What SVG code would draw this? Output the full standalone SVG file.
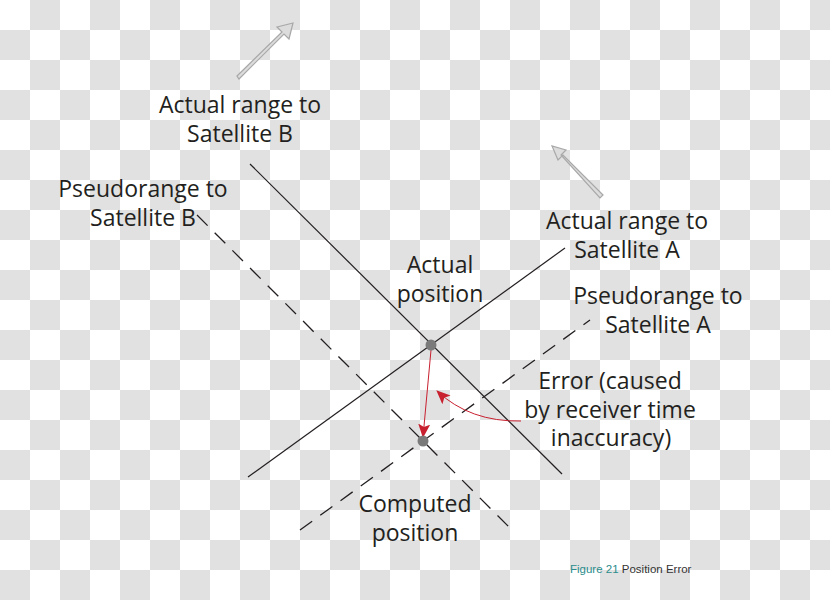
<svg xmlns="http://www.w3.org/2000/svg" width="830" height="600" viewBox="0 0 830 600">
<defs>
<pattern id="chk" width="60" height="60" patternUnits="userSpaceOnUse">
<rect width="60" height="60" fill="#ffffff"/>
<rect x="30" y="0" width="30" height="30" fill="#e1e1e1"/>
<rect x="0" y="30" width="30" height="30" fill="#e1e1e1"/>
</pattern>
<marker id="redhead" viewBox="0 0 14 12" refX="13" refY="6" markerWidth="14" markerHeight="12" markerUnits="userSpaceOnUse" orient="auto">
<path d="M0,0 L14,6 L0,12 L3,6 Z" fill="#c8202f"/>
</marker>
<style>
.lbl{font-family:"Open Sans","Liberation Sans",sans-serif;font-size:23px;fill:#231f20;text-anchor:middle}
.solid{stroke:#231f20;stroke-width:1.2;fill:none}
.dash{stroke:#231f20;stroke-width:1.3;fill:none;stroke-dasharray:15 10}
.red{stroke:#c8202f;stroke-width:1;fill:none}
.dot{fill:#7a7a7a}
.garrow{fill:#dcdcdc;stroke:#a8a8a8;stroke-width:1.2}
.cap{font-family:"Liberation Sans",Arial,sans-serif;font-size:11.5px}
</style>
</defs>
<rect width="830" height="600" fill="url(#chk)"/>
<g id="connectors">
<line id="actual-b" class="solid" x1="250" y1="164" x2="562" y2="474"/>
<line id="actual-a" class="solid" x1="248" y1="477" x2="565" y2="248"/>
<line id="pseudo-b" class="dash" x1="197" y1="215" x2="512" y2="530"/>
<line id="pseudo-a" class="dash" x1="300" y1="530" x2="590" y2="320"/>
<line id="error-vec" class="red" x1="431" y1="350" x2="423" y2="437" marker-end="url(#redhead)"/>
<path id="error-pointer" class="red" d="M521,421 Q470,422 437,391" marker-end="url(#redhead)"/>
</g>
<g id="arrow-b">
<path class="garrow" d="M237,76 L282,32 L277,27 L293,23 L289,39 L284,34 L239,79 Z"/>
</g>
<g id="arrow-a">
<path class="garrow" d="M603,195 L563,155 L558,160 L552,146 L566,150 L561,155 L600,198 Z"/>
</g>
<g id="actual-position">
<circle class="dot" cx="431" cy="345" r="5.5"/>
<text class="lbl" x="440" y="273">Actual</text>
<text class="lbl" x="440" y="302">position</text>
</g>
<g id="computed-position">
<circle class="dot" cx="423" cy="441" r="5.5"/>
<text class="lbl" x="415" y="512">Computed</text>
<text class="lbl" x="415" y="541">position</text>
</g>
<g id="label-actual-b">
<text class="lbl" x="240" y="113">Actual range to</text>
<text class="lbl" x="240" y="142">Satellite B</text>
</g>
<g id="label-pseudo-b">
<text class="lbl" x="143" y="197">Pseudorange to</text>
<text class="lbl" x="143" y="226">Satellite B</text>
</g>
<g id="label-actual-a">
<text class="lbl" x="627" y="229">Actual range to</text>
<text class="lbl" x="627" y="258">Satellite A</text>
</g>
<g id="label-pseudo-a">
<text class="lbl" x="658" y="304">Pseudorange to</text>
<text class="lbl" x="658" y="333">Satellite A</text>
</g>
<g id="label-error">
<text class="lbl" x="610" y="389">Error (caused</text>
<text class="lbl" x="610" y="418">by receiver time</text>
<text class="lbl" x="611" y="446">inaccuracy)</text>
</g>
<g id="caption">
<text class="cap" x="570" y="573"><tspan fill="#2a8c8c">Figure 21</tspan><tspan fill="#333333"> Position Error</tspan></text>
</g>
</svg>
